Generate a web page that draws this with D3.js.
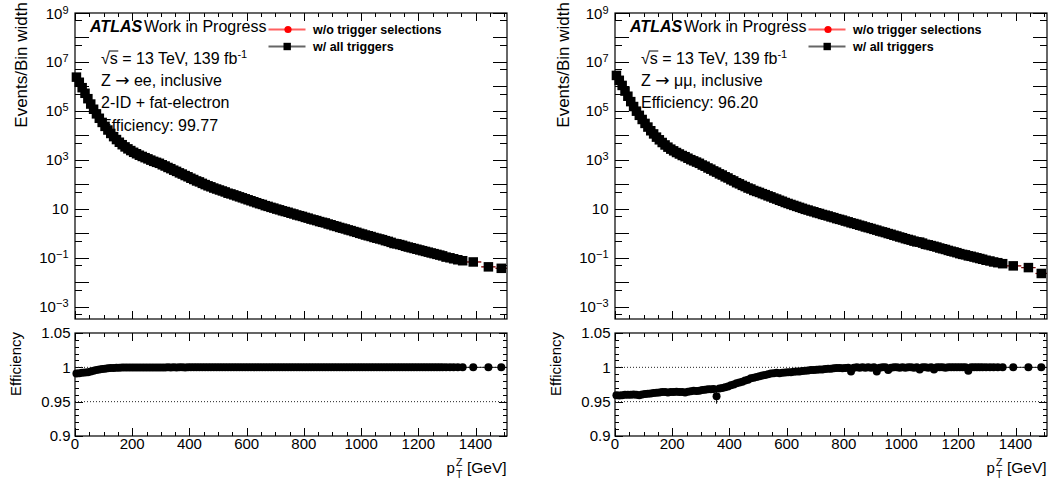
<!DOCTYPE html>
<html>
<head>
<meta charset="utf-8">
<script src="https://cdn.jsdelivr.net/npm/d3@7"></script>
<style>
  html, body { margin: 0; padding: 0; background: #fff; }
  svg { display: block; font-family: "Liberation Sans", Arial, Helvetica, sans-serif; }
  .tick line { stroke: #000; stroke-width: 1; shape-rendering: crispEdges; }
  .arrow { font-family: "DejaVu Sans", sans-serif; }
</style>
</head>
<body>
<svg id="chart" width="1053" height="488"></svg>
<script>
// ---- binning in pT(Z) [GeV]: 10 GeV bins up to 1290, wider bins in the tail ----
const binEdges = [
  0, 10, 20, 30, 40, 50, 60, 70, 80, 90, 100, 110, 120, 130, 140, 150, 160, 170, 180, 190,
  200, 210, 220, 230, 240, 250, 260, 270, 280, 290, 300, 310, 320, 330, 340, 350, 360, 370, 380, 390,
  400, 410, 420, 430, 440, 450, 460, 470, 480, 490, 500, 510, 520, 530, 540, 550, 560, 570, 580, 590,
  600, 610, 620, 630, 640, 650, 660, 670, 680, 690, 700, 710, 720, 730, 740, 750, 760, 770, 780, 790,
  800, 810, 820, 830, 840, 850, 860, 870, 880, 890, 900, 910, 920, 930, 940, 950, 960, 970, 980, 990,
  1000, 1010, 1020, 1030, 1040, 1050, 1060, 1070, 1080, 1090, 1100, 1110, 1120, 1130, 1140, 1150, 1160, 1170, 1180, 1190,
  1200, 1210, 1220, 1230, 1240, 1250, 1260, 1270, 1280, 1290,
  1304, 1317, 1330, 1346, 1364, 1420, 1470, 1510
];

// ---- Z -> ee : events / bin width with all triggers applied ----
const eeAllTriggers = [
  2.40e6, 1.48e6, 8.91e5, 5.25e5, 3.16e5, 1.91e5, 1.17e5, 7.59e4, 5.01e4, 3.39e4,
  2.34e4, 1.66e4, 1.20e4, 8.91e3, 6.76e3, 5.25e3, 4.17e3, 3.39e3, 2.82e3, 2.40e3,
  2.04e3, 1.78e3, 1.55e3, 1.38e3, 1.23e3, 1.10e3, 977, 871, 794, 724,
  631, 562, 490, 437, 380, 339, 295, 263, 229, 204,
  178, 158, 138, 126, 110, 97.7, 87.1, 79.4, 70.8, 64.6,
  58.9, 53.7, 49.0, 43.5, 40.7, 37.2, 33.9, 30.9, 28.2, 25.7,
  23.4, 21.4, 19.5, 17.8, 16.2, 15.1, 13.5, 12.6, 11.5, 10.7,
  9.77, 9.12, 8.32, 7.76, 7.24, 6.61, 6.17, 5.62, 5.25, 4.90,
  4.47, 4.17, 3.80, 3.55, 3.31, 3.02, 2.82, 2.66, 2.40, 2.24,
  2.04, 1.91, 1.74, 1.62, 1.51, 1.38, 1.29, 1.18, 1.10, 1.00,
  0.933, 0.851, 0.794, 0.741, 0.676, 0.631, 0.589, 0.550, 0.501, 0.468,
  0.427, 0.385, 0.372, 0.347, 0.324, 0.295, 0.275, 0.257, 0.240, 0.224,
  0.209, 0.195, 0.182, 0.170, 0.158, 0.148, 0.138, 0.129, 0.120,
  0.107, 0.100, 0.0912, 0.0832, 0.0759, 0.0676, 0.0427, 0.0372
];

// ---- Z -> ee : trigger efficiency per bin ----
const eeEfficiency = [
  0.9910, 0.9915, 0.9920, 0.9925, 0.9930, 0.9940, 0.9950, 0.9960, 0.9970, 0.9975,
  0.9980, 0.9985, 0.9990, 0.9990, 0.9993, 0.9995, 0.9996, 0.9996, 0.9997, 0.9997,
  0.9997, 0.9998, 0.9997, 0.9998, 0.9998, 0.9998, 0.9999, 0.9998, 0.9999, 0.9999,
  0.9999, 0.9999, 1.0000, 0.9999, 1.0000, 0.9999, 1.0000, 1.0000, 0.9999, 1.0000,
  1.0000, 1.0000, 1.0000, 1.0000, 1.0000, 1.0000, 1.0000, 1.0000, 1.0000, 1.0000,
  1.0000, 1.0000, 1.0000, 1.0000, 1.0000, 1.0000, 1.0000, 1.0000, 1.0000, 1.0000,
  1.0000, 1.0000, 1.0000, 1.0000, 1.0000, 1.0000, 1.0000, 1.0000, 1.0000, 1.0000,
  1.0000, 1.0000, 1.0000, 1.0000, 1.0000, 1.0000, 1.0000, 1.0000, 1.0000, 1.0000,
  1.0000, 1.0000, 1.0000, 1.0000, 1.0000, 1.0000, 1.0000, 1.0000, 1.0000, 1.0000,
  1.0000, 1.0000, 1.0000, 1.0000, 1.0000, 1.0000, 1.0000, 1.0000, 1.0000, 1.0000,
  1.0000, 1.0000, 1.0000, 1.0000, 1.0000, 1.0000, 1.0000, 1.0000, 1.0000, 1.0000,
  1.0000, 1.0000, 1.0000, 1.0000, 1.0000, 1.0000, 1.0000, 1.0000, 1.0000, 1.0000,
  1.0000, 1.0000, 1.0000, 1.0000, 1.0000, 1.0000, 1.0000, 1.0000, 1.0000,
  1.0000, 1.0000, 1.0000, 1.0000, 1.0000, 1.0000, 1.0000, 1.0000
];

// ---- Z -> mumu : events / bin width with all triggers applied ----
const mumuAllTriggers = [
  2.82e6, 1.78e6, 1.10e6, 6.46e5, 3.98e5, 2.40e5, 1.51e5, 9.77e4, 6.61e4, 4.47e4,
  3.09e4, 2.19e4, 1.55e4, 1.15e4, 8.51e3, 6.61e3, 5.13e3, 4.07e3, 3.31e3, 2.75e3,
  2.34e3, 2.00e3, 1.74e3, 1.51e3, 1.35e3, 1.17e3, 1.02e3, 912, 813, 724,
  617, 550, 468, 417, 355, 316, 269, 240, 204, 182,
  155, 138, 117, 105, 91.2, 81.3, 70.8, 64.6, 56.2, 51.3,
  46.8, 41.7, 38.0, 33.9, 30.9, 27.5, 25.1, 22.4, 20.4, 18.2,
  16.6, 15.1, 13.8, 12.6, 11.5, 10.5, 9.55, 8.91, 8.13, 7.59,
  6.92, 6.46, 5.89, 5.50, 5.13, 4.68, 4.37, 3.98, 3.72, 3.47,
  3.16, 2.95, 2.69, 2.51, 2.34, 2.14, 2.00, 1.82, 1.70, 1.58,
  1.45, 1.35, 1.23, 1.15, 1.07, 0.977, 0.912, 0.832, 0.776, 0.708,
  0.661, 0.603, 0.562, 0.525, 0.479, 0.447, 0.437, 0.398, 0.355, 0.339,
  0.316, 0.295, 0.275, 0.251, 0.234, 0.219, 0.200, 0.186, 0.174, 0.162,
  0.148, 0.138, 0.132, 0.120, 0.115, 0.107, 0.100, 0.0933, 0.0871,
  0.0794, 0.0741, 0.0676, 0.0631, 0.0575, 0.0468, 0.0398, 0.0229
];

// ---- Z -> mumu : trigger efficiency per bin ----
const mumuEfficiency = [
  0.9595, 0.9590, 0.9595, 0.9600, 0.9600, 0.9600, 0.9605, 0.9600, 0.9595, 0.9605,
  0.9610, 0.9615, 0.9620, 0.9625, 0.9630, 0.9635, 0.9640, 0.9640, 0.9635, 0.9640,
  0.9640, 0.9645, 0.9640, 0.9640, 0.9635, 0.9645, 0.9650, 0.9660, 0.9655, 0.9660,
  0.9670, 0.9675, 0.9680, 0.9680, 0.9685, 0.9580, 0.9690, 0.9700, 0.9710, 0.9720,
  0.9740, 0.9750, 0.9770, 0.9780, 0.9790, 0.9810, 0.9820, 0.9840, 0.9850, 0.9860,
  0.9870, 0.9880, 0.9890, 0.9900, 0.9910, 0.9915, 0.9920, 0.9915, 0.9920, 0.9925,
  0.9930, 0.9930, 0.9935, 0.9940, 0.9940, 0.9945, 0.9950, 0.9955, 0.9960, 0.9960,
  0.9965, 0.9970, 0.9970, 0.9975, 0.9980, 0.9980, 0.9985, 0.9990, 0.9990, 0.9985,
  0.9990, 0.9995, 0.9940, 0.9995, 1.0000, 0.9995, 1.0000, 0.9995, 1.0000, 0.9995,
  1.0000, 0.9940, 0.9995, 1.0000, 1.0000, 0.9960, 0.9995, 1.0000, 1.0000, 0.9995,
  1.0000, 0.9995, 1.0000, 1.0000, 0.9995, 1.0000, 0.9970, 1.0000, 1.0000, 0.9995,
  1.0000, 0.9970, 1.0000, 1.0000, 1.0000, 0.9995, 1.0000, 1.0000, 1.0000, 1.0000,
  1.0000, 1.0000, 1.0000, 0.9950, 1.0000, 1.0000, 1.0000, 1.0000, 1.0000,
  1.0000, 1.0000, 1.0000, 1.0000, 1.0000, 1.0000, 1.0000, 1.0000
];

// bins whose efficiency uncertainty is large enough to show: [pT centre, error]
const mumuEffLargeErrors = [[355, 0.011]];

// ---- axis ticks and labels ----
const decadeExponents = [-3, -2, -1, 0, 1, 2, 3, 4, 5, 6, 7, 8, 9];
const labelledExponents = [9, 7, 5, 3, 1, -1, -3];
const halfDecadeTicks = [5e-4, 5e-3, 5e-2, 5e-1, 5, 50, 500, 5e3, 5e4, 5e5, 5e6, 5e7, 5e8];
const ptMajorTicks = [0, 200, 400, 600, 800, 1000, 1200, 1400];
const ptMinorTicks = [50, 100, 150, 250, 300, 350, 450, 500, 550, 650, 700, 750, 850, 900, 950,
                      1050, 1100, 1150, 1250, 1300, 1350, 1450, 1500];
const effMajorTicks = [0.9, 0.95, 1, 1.05];
const effTickLabels = ["0.9", "0.95", "1", "1.05"];
const effMinorTicks = [0.91, 0.92, 0.93, 0.94, 0.96, 0.97, 0.98, 0.99, 1.01, 1.02, 1.03, 1.04];
const effReferenceLines = [1.0, 0.95];

const legendLabels = ["w/o trigger selections", "w/ all triggers"];

// process lines: [before arrow, after arrow] or a plain line
const eeNotes = [["Z ", " ee, inclusive"], ["2-ID + fat-electron"], ["Efficiency: 99.77"]];
const mumuNotes = [["Z ", " \u03bc\u03bc, inclusive"], ["Efficiency: 96.20"]];

// ---- layout ----
const panels = [
  { x0: 75,  x1: 507,  yTitleX: 26.5,  effTitleX: 20.5,  all: eeAllTriggers,   eff: eeEfficiency,   notes: eeNotes,   errs: [] },
  { x0: 615, x1: 1047, yTitleX: 569,   effTitleX: 560.5, all: mumuAllTriggers, eff: mumuEfficiency, notes: mumuNotes, errs: mumuEffLargeErrors }
];
const TOP = { y0: 13, y1: 319 };
const BOT = { y0: 333, y1: 436 };

const svg = d3.select("#chart");

const yLog = d3.scaleLog().domain([Math.pow(10, -3.5), 1e9]).range([TOP.y1, TOP.y0]);
const yEff = d3.scaleLinear().domain([0.9, 1.05]).range([BOT.y1, BOT.y0]);

function styleAxis(sel) {
  sel.select(".domain").remove();
  sel.selectAll(".tick text").remove();
}

panels.forEach(p => {
  const x = d3.scaleLinear().domain([0, 1510]).range([p.x0, p.x1]);
  const g = svg.append("g");

  const bins = binEdges.slice(0, -1).map((lo, i) => {
    const hi = binEdges[i + 1];
    return { lo, hi, c: (lo + hi) / 2, all: p.all[i], eff: p.eff[i], noTrig: p.all[i] / p.eff[i] };
  });

  // ================= upper pad =================
  const up = g.append("g");

  // ticks on all four sides, pointing inward
  up.append("g").attr("transform", `translate(${p.x0},0)`)
    .call(d3.axisLeft(yLog).tickValues(decadeExponents.map(e => Math.pow(10, e))).tickSize(-14).tickFormat("")).call(styleAxis);
  up.append("g").attr("transform", `translate(${p.x0},0)`)
    .call(d3.axisLeft(yLog).tickValues(halfDecadeTicks).tickSize(-7).tickFormat("")).call(styleAxis);
  up.append("g").attr("transform", `translate(${p.x1},0)`)
    .call(d3.axisRight(yLog).tickValues(decadeExponents.map(e => Math.pow(10, e))).tickSize(-14).tickFormat("")).call(styleAxis);
  up.append("g").attr("transform", `translate(${p.x1},0)`)
    .call(d3.axisRight(yLog).tickValues(halfDecadeTicks).tickSize(-7).tickFormat("")).call(styleAxis);
  [[TOP.y1, d3.axisBottom], [TOP.y0, d3.axisTop]].forEach(([yy, ax]) => {
    up.append("g").attr("transform", `translate(0,${yy})`)
      .call(ax(x).tickValues(ptMajorTicks).tickSize(-8).tickFormat("")).call(styleAxis);
    up.append("g").attr("transform", `translate(0,${yy})`)
      .call(ax(x).tickValues(ptMinorTicks).tickSize(-4).tickFormat("")).call(styleAxis);
  });

  // y tick labels: powers of ten
  labelledExponents.forEach(e => {
    const t = up.append("text")
      .attr("x", p.x0 - 6.5).attr("y", yLog(Math.pow(10, e)) + 5.5)
      .attr("text-anchor", "end").style("font-size", "15px");
    t.append("tspan").text("10");
    if (e !== 1) {
      t.append("tspan").attr("dy", -5).style("font-size", "11px").text(e < 0 ? "\u2212" + (-e) : String(e));
    }
  });

  // y title
  up.append("text")
    .attr("transform", `translate(${p.yTitleX},2) rotate(-90)`)
    .attr("text-anchor", "end").style("font-size", "17px")
    .text("Events/Bin width");

  // series without trigger selection (red circles), drawn underneath
  up.append("g").selectAll("line").data(bins).join("line")
    .attr("x1", d => x(d.lo)).attr("x2", d => x(d.hi))
    .attr("y1", d => yLog(d.noTrig)).attr("y2", d => yLog(d.noTrig))
    .attr("stroke", "#ff2020").attr("stroke-width", 1.2);
  up.append("g").selectAll("circle").data(bins).join("circle")
    .attr("cx", d => x(d.c)).attr("cy", d => yLog(d.noTrig)).attr("r", 4)
    .attr("fill", "#ff0000");

  // series with all triggers (black squares)
  up.append("g").selectAll("line").data(bins).join("line")
    .attr("x1", d => x(d.lo)).attr("x2", d => x(d.hi))
    .attr("y1", d => yLog(d.all)).attr("y2", d => yLog(d.all))
    .attr("stroke", "rgba(0,0,0,0.55)").attr("stroke-width", 1.2);
  const sq = 9.5;
  up.append("g").selectAll("rect").data(bins).join("rect")
    .attr("x", d => x(d.c) - sq / 2).attr("y", d => yLog(d.all) - sq / 2)
    .attr("width", sq).attr("height", sq).attr("fill", "#000");

  // frame
  up.append("rect").attr("x", p.x0).attr("y", TOP.y0)
    .attr("width", p.x1 - p.x0).attr("height", TOP.y1 - TOP.y0)
    .attr("fill", "none").attr("stroke", "#000").attr("stroke-width", 1.2);

  // ATLAS label and notes
  const atlas = up.append("text").attr("x", p.x0 + 15).attr("y", 32).style("font-size", "16px");
  atlas.append("tspan").style("font-weight", "bold").style("font-style", "italic").text("ATLAS");
  up.append("text").attr("x", p.x0 + 69).attr("y", 32).style("font-size", "16px").text("Work in Progress");

  const lumi = up.append("text").attr("x", p.x0 + 26).attr("y", 63.5).style("font-size", "16px");
  lumi.append("tspan").text("\u221As = 13 TeV, 139 fb");
  lumi.append("tspan").attr("dy", -6).style("font-size", "11px").text("-1");
  // bar over the "s" of the square root
  const sBox = lumi.node().getExtentOfChar(1);
  const rootBox = lumi.node().getExtentOfChar(0);
  up.append("line")
    .attr("x1", rootBox.x + rootBox.width - 1).attr("x2", sBox.x + sBox.width + 0.5)
    .attr("y1", rootBox.y + 1.5).attr("y2", rootBox.y + 1.5)
    .attr("stroke", "#000").attr("stroke-width", 1);

  p.notes.forEach((parts, i) => {
    const t = up.append("text").attr("x", p.x0 + 26).attr("y", 85.5 + i * 22.8).style("font-size", "16px");
    t.append("tspan").text(parts[0]);
    if (parts.length > 1) {
      t.append("tspan").attr("class", "arrow").style("font-size", "17px").text("\u2192");
      t.append("tspan").text(parts[1]);
    }
  });

  // legend
  const legY = [29.5, 46.5];
  const lg = up.append("g");
  lg.append("line").attr("x1", p.x0 + 193.5).attr("x2", p.x0 + 230.5)
    .attr("y1", legY[0]).attr("y2", legY[0]).attr("stroke", "#ff6060").attr("stroke-width", 2);
  lg.append("circle").attr("cx", p.x0 + 213).attr("cy", legY[0]).attr("r", 3.6).attr("fill", "#ff0000");
  lg.append("line").attr("x1", p.x0 + 193.5).attr("x2", p.x0 + 230.5)
    .attr("y1", legY[1]).attr("y2", legY[1]).attr("stroke", "#666").attr("stroke-width", 2);
  lg.append("rect").attr("x", p.x0 + 208.5).attr("y", legY[1] - 3.7).attr("width", 7.4).attr("height", 7.4).attr("fill", "#000");
  legendLabels.forEach((s, i) => {
    lg.append("text").attr("x", p.x0 + 238).attr("y", legY[i] + 4.3)
      .style("font-size", "12.5px").style("font-weight", "bold").text(s);
  });

  // ================= lower pad: efficiency =================
  const lo = g.append("g");

  lo.append("g").attr("transform", `translate(${p.x0},0)`)
    .call(d3.axisLeft(yEff).tickValues(effMajorTicks).tickSize(-8).tickFormat("")).call(styleAxis);
  lo.append("g").attr("transform", `translate(${p.x0},0)`)
    .call(d3.axisLeft(yEff).tickValues(effMinorTicks).tickSize(-4).tickFormat("")).call(styleAxis);
  lo.append("g").attr("transform", `translate(${p.x1},0)`)
    .call(d3.axisRight(yEff).tickValues(effMajorTicks).tickSize(-8).tickFormat("")).call(styleAxis);
  lo.append("g").attr("transform", `translate(${p.x1},0)`)
    .call(d3.axisRight(yEff).tickValues(effMinorTicks).tickSize(-4).tickFormat("")).call(styleAxis);
  [[BOT.y1, d3.axisBottom], [BOT.y0, d3.axisTop]].forEach(([yy, ax]) => {
    lo.append("g").attr("transform", `translate(0,${yy})`)
      .call(ax(x).tickValues(ptMajorTicks).tickSize(-8).tickFormat("")).call(styleAxis);
    lo.append("g").attr("transform", `translate(0,${yy})`)
      .call(ax(x).tickValues(ptMinorTicks).tickSize(-4).tickFormat("")).call(styleAxis);
  });

  effMajorTicks.forEach((v, i) => {
    lo.append("text").attr("x", p.x0 - 4.5).attr("y", yEff(v) + 5.2)
      .attr("text-anchor", "end").style("font-size", "15px").text(effTickLabels[i]);
  });
  ptMajorTicks.forEach(v => {
    lo.append("text").attr("x", x(v)).attr("y", 448.5)
      .attr("text-anchor", "middle").style("font-size", "15px").text(String(v));
  });

  // reference lines
  lo.append("g").selectAll("line").data(effReferenceLines).join("line")
    .attr("x1", p.x0).attr("x2", p.x1)
    .attr("y1", d => yEff(d)).attr("y2", d => yEff(d))
    .attr("stroke", "#222").attr("stroke-width", 1).attr("stroke-dasharray", "1,2");

  // efficiency points
  lo.append("g").selectAll("line").data(bins).join("line")
    .attr("x1", d => x(d.lo)).attr("x2", d => x(d.hi))
    .attr("y1", d => yEff(d.eff)).attr("y2", d => yEff(d.eff))
    .attr("stroke", "#111").attr("stroke-width", 1);
  lo.append("g").selectAll("line").data(p.errs).join("line")
    .attr("x1", d => x(d[0])).attr("x2", d => x(d[0]))
    .attr("y1", d => yEff(bins.find(b => b.c === d[0]).eff - d[1]))
    .attr("y2", d => yEff(bins.find(b => b.c === d[0]).eff + d[1]))
    .attr("stroke", "#111").attr("stroke-width", 1);
  lo.append("g").selectAll("circle").data(bins).join("circle")
    .attr("cx", d => x(d.c)).attr("cy", d => yEff(d.eff)).attr("r", 4)
    .attr("fill", "#000");

  lo.append("rect").attr("x", p.x0).attr("y", BOT.y0)
    .attr("width", p.x1 - p.x0).attr("height", BOT.y1 - BOT.y0)
    .attr("fill", "none").attr("stroke", "#000").attr("stroke-width", 1.2);

  lo.append("text")
    .attr("transform", `translate(${p.effTitleX},${BOT.y0 - 1}) rotate(-90)`)
    .attr("text-anchor", "end").style("font-size", "15px")
    .text("Efficiency");

  // x title: p_T^Z [GeV]
  lo.append("text").attr("x", p.x1 - 60.5).attr("y", 473).style("font-size", "15px").text("p");
  lo.append("text").attr("x", p.x1 - 51).attr("y", 466).style("font-size", "10.5px").text("Z");
  lo.append("text").attr("x", p.x1 - 51).attr("y", 477.5).style("font-size", "10.5px").text("T");
  lo.append("text").attr("x", p.x1 - 40).attr("y", 473).style("font-size", "15.5px").text("[GeV]");
});
</script>
</body>
</html>
